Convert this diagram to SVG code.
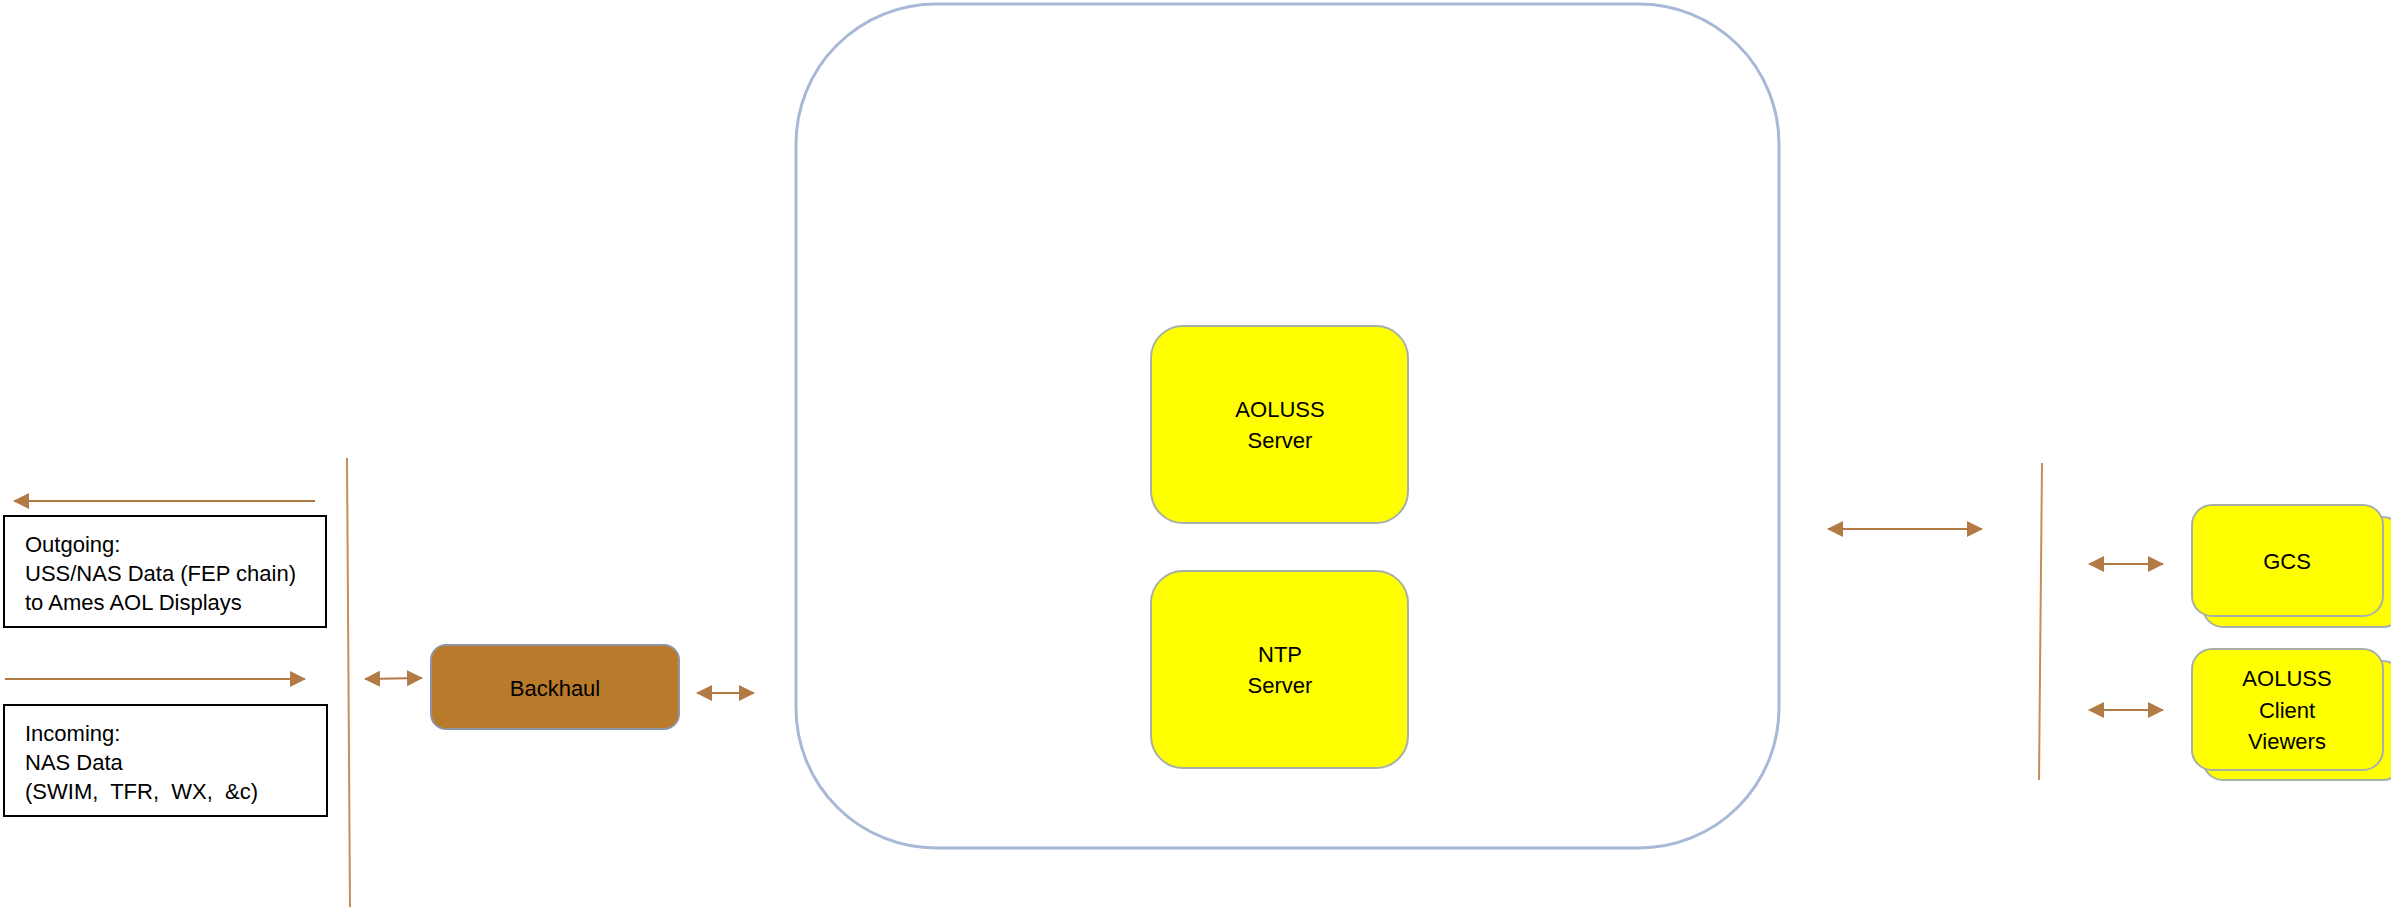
<svg xmlns="http://www.w3.org/2000/svg" width="2391" height="907" viewBox="0 0 2391 907">
<style>
text{font-family:"Liberation Sans",Arial,sans-serif;fill:#000}
.lbl{font-size:22px}
.ctr{text-anchor:middle}
.conn{stroke:#B27B45;stroke-width:2;fill:none}
.sep{stroke:#C48E58;stroke-width:2;fill:none}
.yel{fill:#FFFF00;stroke:#A7B0A8;stroke-width:2}
.box{fill:#fff;stroke:#000;stroke-width:2}
</style>
<defs>
<marker id="ah" viewBox="0 0 16 16" refX="15" refY="8" markerWidth="16" markerHeight="16" markerUnits="userSpaceOnUse" orient="auto-start-reverse">
<path d="M0,0 L16,8 L0,16 Z" fill="#B27B45"/>
</marker>
</defs>
<rect width="2391" height="907" fill="#fff"/>

<g id="container">
<rect x="796" y="4" width="983" height="844" rx="140" ry="140" fill="#fff" stroke="#A9B8D6" stroke-width="3"/>
</g>

<g id="connectors">
<line class="sep" x1="347" y1="458" x2="350" y2="907"/>
<line class="sep" x1="2042" y1="463" x2="2039" y2="780"/>
<line class="conn" x1="315" y1="501" x2="14" y2="501" marker-end="url(#ah)"/>
<line class="conn" x1="5" y1="679" x2="305" y2="679" marker-end="url(#ah)"/>
<line class="conn" x1="365" y1="679" x2="422" y2="678" marker-start="url(#ah)" marker-end="url(#ah)"/>
<line class="conn" x1="697" y1="693" x2="754" y2="693" marker-start="url(#ah)" marker-end="url(#ah)"/>
<line class="conn" x1="1828" y1="529" x2="1982" y2="529" marker-start="url(#ah)" marker-end="url(#ah)"/>
<line class="conn" x1="2089" y1="564" x2="2163" y2="564" marker-start="url(#ah)" marker-end="url(#ah)"/>
<line class="conn" x1="2089" y1="710" x2="2163" y2="710" marker-start="url(#ah)" marker-end="url(#ah)"/>
</g>

<g id="outgoing">
<rect class="box" x="4" y="516" width="322" height="111"/>
<text class="lbl" x="25" y="552">Outgoing:</text>
<text class="lbl" x="25" y="581">USS/NAS Data (FEP chain)</text>
<text class="lbl" x="25" y="610">to Ames AOL Displays</text>
</g>

<g id="incoming">
<rect class="box" x="4" y="705" width="323" height="111"/>
<text class="lbl" x="25" y="741">Incoming:</text>
<text class="lbl" x="25" y="770">NAS Data</text>
<text class="lbl" x="25" y="799" xml:space="preserve">(SWIM,  TFR,  WX,  &amp;c)</text>
</g>

<g id="backhaul">
<rect x="431" y="645" width="248" height="84" rx="15" ry="15" fill="#B97A2C" stroke="#8C96A6" stroke-width="2"/>
<text class="lbl ctr" x="555" y="696">Backhaul</text>
</g>

<g id="aoluss-server">
<rect class="yel" x="1151" y="326" width="257" height="197" rx="32" ry="32"/>
<text class="lbl ctr" x="1280" y="417">AOLUSS</text>
<text class="lbl ctr" x="1280" y="448">Server</text>
</g>

<g id="ntp-server">
<rect class="yel" x="1151" y="571" width="257" height="197" rx="32" ry="32"/>
<text class="lbl ctr" x="1280" y="662">NTP</text>
<text class="lbl ctr" x="1280" y="693">Server</text>
</g>

<g id="gcs">
<rect class="yel" x="2203" y="517" width="200" height="110" rx="20" ry="20"/>
<rect class="yel" x="2192" y="505" width="191" height="111" rx="20" ry="20"/>
<text class="lbl ctr" x="2287" y="569">GCS</text>
</g>

<g id="client-viewers">
<rect class="yel" x="2203" y="661" width="200" height="119" rx="20" ry="20"/>
<rect class="yel" x="2192" y="649" width="191" height="121" rx="20" ry="20"/>
<text class="lbl ctr" x="2287" y="686">AOLUSS</text>
<text class="lbl ctr" x="2287" y="718">Client</text>
<text class="lbl ctr" x="2287" y="749">Viewers</text>
</g>
</svg>
